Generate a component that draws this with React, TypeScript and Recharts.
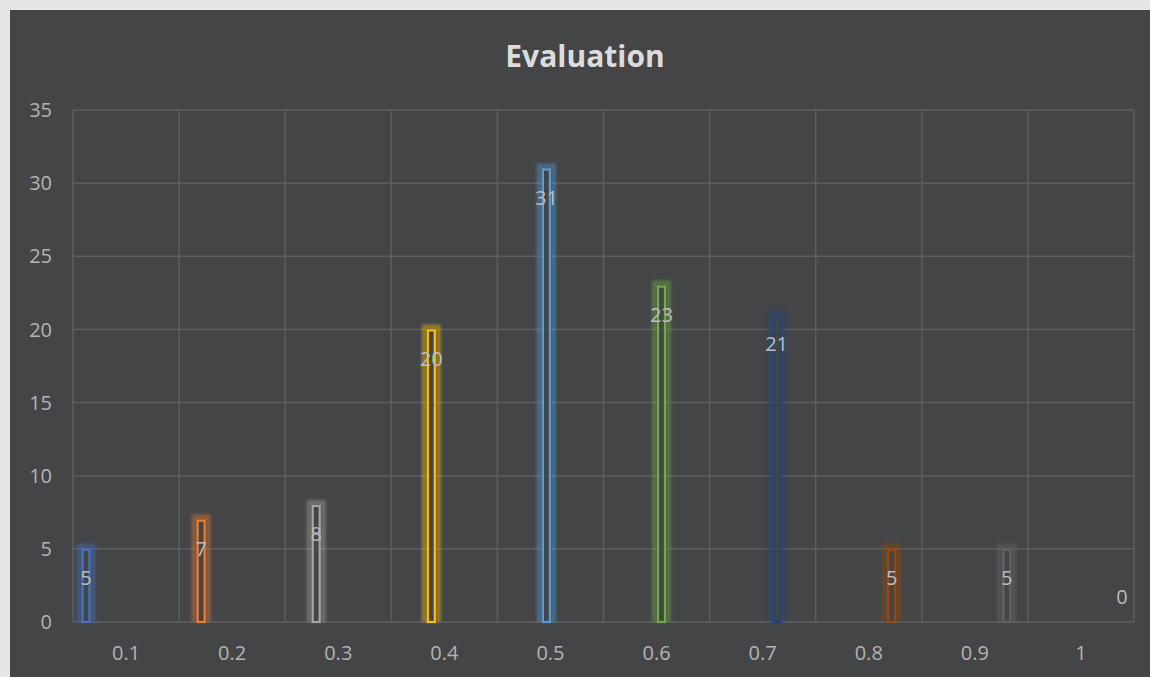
import { BarChart, Bar, XAxis, YAxis, CartesianGrid, LabelList } from "recharts";

const categories = ["0.1", "0.2", "0.3", "0.4", "0.5", "0.6", "0.7", "0.8", "0.9", "1"];
const counts = [5, 7, 8, 20, 31, 23, 21, 5, 5, 0];
const yTicks = [0, 5, 10, 15, 20, 25, 30, 35];
const colors = [
  "#4472C4",
  "#ED7D31",
  "#A5A5A5",
  "#FFC000",
  "#5B9BD5",
  "#70AD47",
  "#264478",
  "#9E480E",
  "#636363",
  "#997300",
];

const BG = "#434547";
const FONT = "'Open Sans', sans-serif";

// Excel-style: one series per category, so each bar sits in its own slot
const data = categories.map((cat, i) => {
  const row: Record<string, string | number | null> = { name: cat };
  categories.forEach((_, j) => {
    row[`s${j}`] = i === j ? counts[i] : null;
  });
  return row;
});

// outlined bar
const OutlineBar = (props: any) => {
  const { x, y, width, height } = props;
  if (x == null || !height) return null;
  return (
    <rect
      x={x + 1}
      y={y + 1}
      width={Math.max(width - 2, 0)}
      height={Math.max(height - 1, 0)}
      fill={BG}
      fillOpacity={0.75}
      stroke={props.color}
      strokeWidth={2.2}
    />
  );
};

// value label plus the soft halo around the bar (a blurred ring that leaves the bar itself clear)
const makeLabel = (color: string) => (props: any) => {
  const { x, y, width, height, value } = props;
  if (value == null) return null;
  const cy = value === 0 ? y - 26 : y + 29;
  let halo = null;
  if (value !== 0 && height) {
    const p = 5;
    const d =
      `M${x - p},${y - p}h${width + 2 * p}v${height + p}h${-(width + 2 * p)}Z` +
      `M${x},${y}v${height}h${width}v${-height}Z`;
    halo = <path d={d} fill={color} fillRule="evenodd" fillOpacity={0.45} filter="url(#barGlow)" />;
  }
  return (
    <g>
      {halo}
      <text
        x={x + width / 2}
        y={cy}
        textAnchor="middle"
        dominantBaseline="central"
        fill="#bdbdbd"
        fontSize={20}
        fontFamily={FONT}
      >
        {value}
      </text>
    </g>
  );
};

export default function App() {
  return (
    <div
      style={{
        position: "absolute",
        left: 0,
        top: 0,
        width: 1150,
        height: 677,
        background: "#e6e6e6",
      }}
    >
      <div
        style={{
          position: "absolute",
          left: 10,
          top: 10,
          width: 1140,
          height: 667,
          background: BG,
        }}
      >
        <BarChart
          width={1140}
          height={667}
          data={data}
          margin={{ top: 100, right: 16, bottom: 25, left: 13 }}
          barGap={0}
          barCategoryGap={8.5}
        >
          <defs>
            <filter id="barGlow" x="-100%" y="-20%" width="300%" height="140%">
              <feGaussianBlur stdDeviation="1.8" />
            </filter>
          </defs>
          <text
            x={575}
            y={57}
            textAnchor="middle"
            fill="#dcdcdc"
            fontSize={30}
            fontWeight="bold"
            fontFamily={FONT}
          >
            Evaluation
          </text>
          <CartesianGrid
            stroke="#5c5f62"
            strokeWidth={1.5}
            verticalCoordinatesGenerator={({ offset }: any) =>
              Array.from(
                { length: categories.length + 1 },
                (_, i) => offset.left + (i * offset.width) / categories.length
              )
            }
          />
          <XAxis
            dataKey="name"
            axisLine={false}
            tickLine={false}
            tickSize={0}
            tickMargin={24}
            height={30}
            tick={{ fill: "#b4b4b4", fontSize: 20, fontFamily: FONT }}
          />
          <YAxis
            domain={[0, 35]}
            ticks={yTicks}
            axisLine={false}
            tickLine={false}
            tickSize={0}
            tickMargin={21}
            width={50}
            tick={{ fill: "#b4b4b4", fontSize: 20, fontFamily: FONT }}
          />
          {categories.map((_, j) => (
            <Bar
              key={j}
              dataKey={`s${j}`}
              fill={colors[j]}
              shape={(p: any) => <OutlineBar {...p} color={colors[j]} />}
              isAnimationActive={false}
            >
              <LabelList dataKey={`s${j}`} content={makeLabel(colors[j])} />
            </Bar>
          ))}
        </BarChart>
      </div>
    </div>
  );
}
